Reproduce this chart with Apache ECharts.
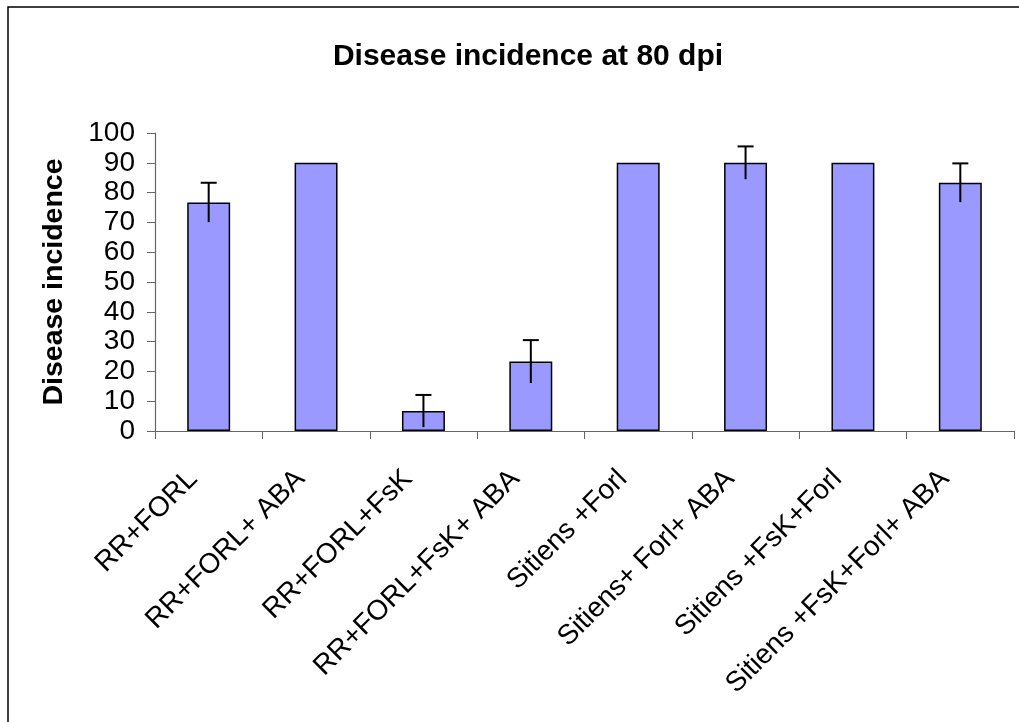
<!DOCTYPE html>
<html>
<head>
<meta charset="utf-8">
<script src="https://cdn.jsdelivr.net/npm/echarts@6/dist/echarts.min.js"></script>
<style>
html,body{margin:0;padding:0;background:#fff;}
#chart{width:1019px;height:722px;}
</style>
</head>
<body>
<div id="chart"></div>
<script>
var categories = ['RR+FORL', 'RR+FORL+ ABA', 'RR+FORL+FsK', 'RR+FORL+FsK+ ABA', 'Sitiens +Forl', 'Sitiens+ Forl+ ABA', 'Sitiens +FsK+Forl', 'Sitiens +FsK+Forl+ ABA'];
var incidence = [76.7, 90, 6.7, 23.3, 90, 90, 90, 83.3];
var errors = [6.6, 0, 5.4, 7.2, 0, 5.5, 0, 6.5];
var yTicks = [0, 10, 20, 30, 40, 50, 60, 70, 80, 90, 100];

var chart = echarts.init(document.getElementById('chart'));
var fontFam = 'Liberation Sans, Arial, sans-serif';

var errData = incidence.map(function (v, i) { return [i, v, errors[i]]; });

chart.setOption({
  animation: false,
  backgroundColor: '#ffffff',
  title: {
    text: 'Disease incidence at 80 dpi',
    left: 523,
    textAlign: 'center',
    top: 37,
    textStyle: { fontFamily: fontFam, fontSize: 30, fontWeight: 'bold', color: '#000' }
  },
  graphic: [{
    type: 'rect',
    shape: { x: 8, y: 7, width: 1040, height: 740 },
    style: { fill: 'none', stroke: '#000', lineWidth: 1.5 },
    silent: true
  }],
  grid: { left: 155, right: 5, top: 133, bottom: 291 },
  xAxis: {
    type: 'category',
    data: categories,
    axisLine: { lineStyle: { color: '#666', width: 1.2 } },
    axisTick: { show: true, length: 8, inside: false, lineStyle: { color: '#666' } },
    axisLabel: {
      rotate: 45,
      margin: 28,
      padding: [0, 22, 0, 0],
      interval: 0,
      color: '#000',
      fontFamily: fontFam,
      fontSize: 28
    }
  },
  yAxis: {
    type: 'value',
    min: 0,
    max: 100,
    interval: 10,
    name: 'Disease incidence',
    nameLocation: 'middle',
    nameGap: 86,
    nameTextStyle: { fontFamily: fontFam, fontSize: 28.5, fontWeight: 'bold', color: '#000' },
    axisLine: { show: true, lineStyle: { color: '#666', width: 1.2 } },
    axisTick: { show: true, length: 8, inside: false, lineStyle: { color: '#666' } },
    splitLine: { show: false },
    axisLabel: {
      margin: 20,
      color: '#000',
      fontFamily: fontFam,
      fontSize: 28,
      formatter: function (v) { return yTicks.indexOf(v) >= 0 ? String(v) : ''; }
    }
  },
  series: [{
    type: 'bar',
    data: incidence,
    barWidth: '40%',
    itemStyle: { color: '#9999FF', borderColor: '#000', borderWidth: 1.5 }
  }, {
    type: 'custom',
    data: errData,
    z: 10,
    renderItem: function (params, api) {
      var i = api.value(0), v = api.value(1), e = api.value(2);
      if (!e) return null;
      var top = api.coord([i, v + e]);
      var bot = api.coord([i, v - e]);
      var cap = 8;
      return {
        type: 'group',
        children: [{
          type: 'line',
          shape: { x1: top[0], y1: top[1], x2: bot[0], y2: bot[1] },
          style: { stroke: '#000', lineWidth: 2 }
        }, {
          type: 'line',
          shape: { x1: top[0] - cap, y1: top[1], x2: top[0] + cap, y2: top[1] },
          style: { stroke: '#000', lineWidth: 2 }
        }]
      };
    }
  }]
});
</script>
</body>
</html>
